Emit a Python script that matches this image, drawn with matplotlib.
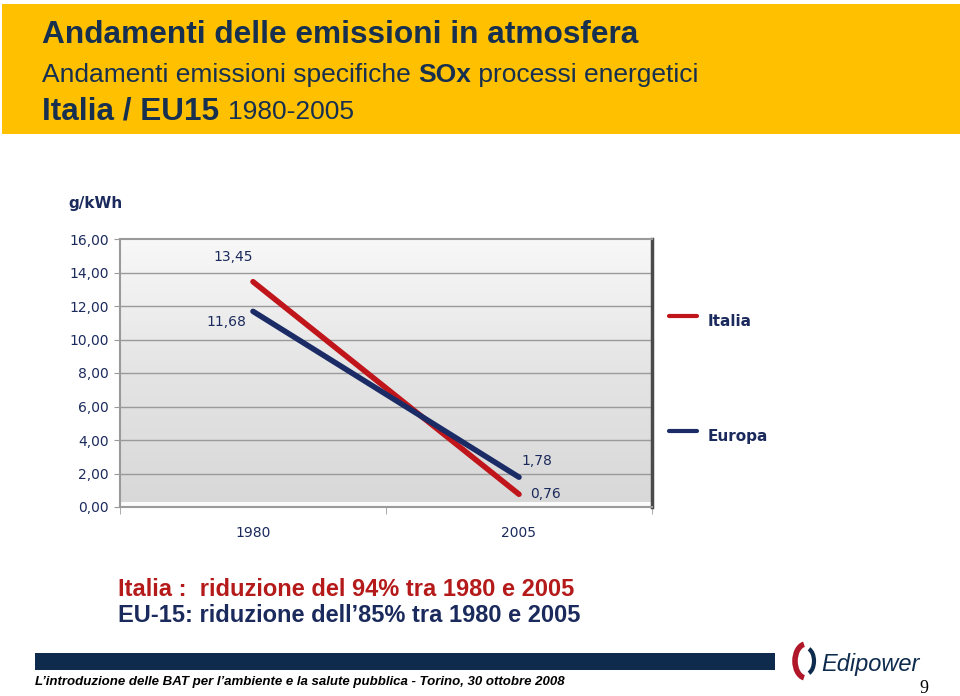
import numpy as np
import matplotlib
matplotlib.use("Agg")
import matplotlib.pyplot as plt
from matplotlib.patches import Rectangle, Arc
from matplotlib.lines import Line2D

# ---------- data ----------
years = ["1980", "2005"]
italia = [13.45, 0.76]
europa = [11.68, 1.78]
italia_labels = ["13,45", "0,76"]
europa_labels = ["11,68", "1,78"]
yticks = [0, 2, 4, 6, 8, 10, 12, 14, 16]
ytick_labels = ["0,00", "2,00", "4,00", "6,00", "8,00", "10,00", "12,00", "14,00", "16,00"]

# ---------- colours ----------
YELLOW = "#FFC000"
NAVY = "#1B2A5C"
TITLE_NAVY = "#17304F"
RED = "#B51A1A"
LINE_RED = "#C0161B"
LINE_NAVY = "#1B2B66"
BAR_NAVY = "#0E2B4E"

W, H = 960, 696
fig = plt.figure(figsize=(9.6, 6.96), dpi=100)
fig.patch.set_facecolor("white")


def fx(px):
    return px / W


def fy(py):
    return 1 - py / H


# ---------- header banner ----------
fig.add_artist(Rectangle((fx(2), fy(134)), fx(958), 130 / H, transform=fig.transFigure,
                         facecolor=YELLOW, edgecolor="none", zorder=0))

r = fig.canvas.get_renderer()


def chain(parts, x, y):
    # put text pieces one after the other on the same baseline
    for s, kw in parts:
        t = fig.text(x, y, s, va="baseline", ha="left", **kw)
        bb = t.get_window_extent(r)
        x = fig.transFigure.inverted().transform((bb.x1, bb.y0))[0]
    return x


fig.text(fx(42), fy(43), "Andamenti delle emissioni in atmosfera", family="Liberation Sans",
         weight="bold", fontsize=22.8, color=TITLE_NAVY, va="baseline")
chain([("Andamenti emissioni specifiche ", dict(family="Liberation Sans", fontsize=19, color=TITLE_NAVY)),
       ("SOx", dict(family="Liberation Sans", fontsize=19, weight="bold", color=TITLE_NAVY)),
       (" processi energetici", dict(family="Liberation Sans", fontsize=19, color=TITLE_NAVY))],
      fx(42), fy(82))
chain([("Italia / EU15 ", dict(family="Liberation Sans", fontsize=22.7, weight="bold", color=TITLE_NAVY)),
       ("1980-2005", dict(family="Liberation Sans", fontsize=19, color=TITLE_NAVY))],
      fx(42), fy(119))

# ---------- chart ----------
ax = fig.add_axes([fx(120), fy(507), fx(532), 268 / H])
x = np.arange(len(years))
ax.set_xlim(-0.5, 1.5)
ax.set_ylim(0, 16)

# gradient plot background
grad = np.linspace(0, 1, 256).reshape(-1, 1)
ax.imshow(grad, cmap=matplotlib.colors.LinearSegmentedColormap.from_list(
    "bg", ["#d8d8d8", "#e4e4e4", "#f8f8f8"]), extent=(-0.5, 1.5, 0, 16),
    aspect="auto", origin="lower", zorder=0)
ax.axhspan(0, 0.3, facecolor="#fbfbfb", zorder=0.5)

for yv in yticks[1:-1]:
    ax.axhline(yv, color="#9a9a9a", lw=1.0, zorder=1)

ax.plot(x, italia, color=LINE_RED, lw=4.0, solid_capstyle="round", zorder=3)
ax.plot(x, europa, color=LINE_NAVY, lw=4.0, solid_capstyle="round", zorder=4)

lab_kw = dict(family="DejaVu Sans", fontsize=10, color=NAVY, textcoords="offset points",
              ha="center", va="center", annotation_clip=False)
ax.annotate(italia_labels[0], (x[0], italia[0]), xytext=(-14, 18), **lab_kw)
ax.annotate(europa_labels[0], (x[0], europa[0]), xytext=(-19, -8), **lab_kw)
ax.annotate(europa_labels[1], (x[1], europa[1]), xytext=(13, 12), **lab_kw)
ax.annotate(italia_labels[1], (x[1], italia[1]), xytext=(19, 0), **lab_kw)

ax.set_yticks(yticks)
ax.set_yticklabels(ytick_labels, family="DejaVu Sans", fontsize=10, color=NAVY)
ax.set_xticks(x)
ax.set_xticklabels(years, family="DejaVu Sans", fontsize=10, color=NAVY)
ax.set_xticks([-0.5, 0.5, 1.5], minor=True)
ax.tick_params(axis="x", which="major", length=0, pad=14)
ax.tick_params(axis="x", which="minor", length=5, color="#9a9a9a", direction="out")
ax.tick_params(axis="y", length=4, color="#9a9a9a", pad=4)

for side in ["left", "top", "bottom"]:
    ax.spines[side].set_color("#9a9a9a")
    ax.spines[side].set_linewidth(1.5)
ax.spines["right"].set_color("#4a4a4a")
ax.spines["right"].set_linewidth(2.5)

fig.text(fx(68), fy(208), "g/kWh", family="DejaVu Sans", weight="bold", fontsize=11,
         color=NAVY, va="baseline")

# ---------- legend ----------
for ly, name, col in [(316, "Italia", LINE_RED), (431, "Europa", LINE_NAVY)]:
    fig.add_artist(Line2D([fx(669), fx(697)], [fy(ly), fy(ly)], color=col, lw=3.0,
                          solid_capstyle="round", transform=fig.transFigure))
    fig.text(fx(708), fy(ly + 6), name, family="DejaVu Sans", weight="bold", fontsize=11,
             color=NAVY, va="center")

# ---------- comments ----------
fig.text(fx(118), fy(596), "Italia :  riduzione del 94% tra 1980 e 2005", family="Liberation Sans",
         weight="bold", fontsize=17, color=RED, va="baseline")
fig.text(fx(118), fy(622), "EU-15: riduzione dell\u201985% tra 1980 e 2005", family="Liberation Sans",
         weight="bold", fontsize=17, color=NAVY, va="baseline")

# ---------- footer ----------
fig.add_artist(Rectangle((fx(35), fy(670)), fx(740), 17 / H, transform=fig.transFigure,
                         facecolor=BAR_NAVY, edgecolor="none"))
fig.text(fx(35), fy(685), "L\u2019introduzione delle BAT per l\u2019ambiente e la salute pubblica - Torino, 30 ottobre 2008",
         family="Liberation Sans", weight="bold", style="italic", fontsize=9.55, color="black",
         va="baseline")

# logo
fig.add_artist(Arc((fx(806), fy(661)), fx(22), 34 / H, theta1=95, theta2=265, lw=4,
                   color="#B0182A", transform=fig.transFigure))
fig.add_artist(Arc((fx(806), fy(661)), fx(16), 26 / H, theta1=-80, theta2=80, lw=3,
                   color=BAR_NAVY, transform=fig.transFigure))
fig.text(fx(821), fy(671), "Edipower", family="Liberation Sans", style="italic", fontsize=17,
         color=BAR_NAVY, va="baseline")
fig.text(fx(919), fy(693), "9", family="Liberation Serif", fontsize=13, color="black",
         va="baseline")

fig.savefig("out.png", dpi=100)
